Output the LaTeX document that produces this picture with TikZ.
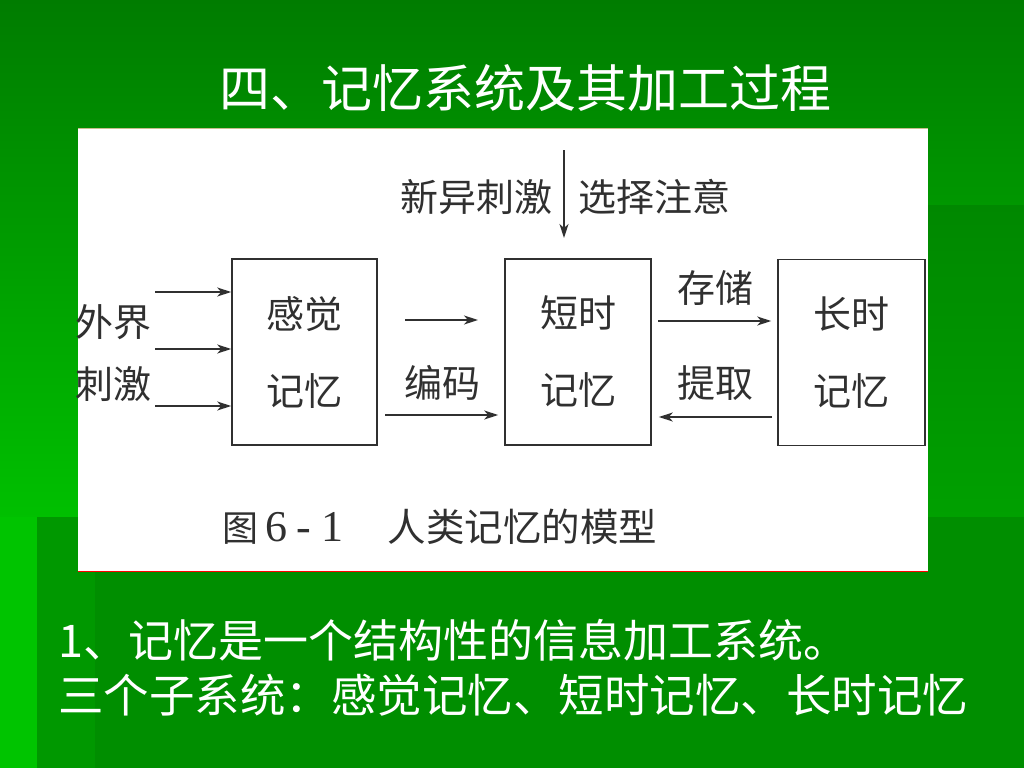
\documentclass[tikz,border=0pt]{standalone}
\usepackage{fontspec}
\setmainfont{Liberation Serif}
\newfontfamily\cjk{Noto Sans CJK SC}
\usetikzlibrary{arrows.meta}
\definecolor{gtop}{RGB}{0,124,0}
\definecolor{gbot}{RGB}{0,192,0}
\definecolor{gright}{RGB}{0,136,0}
\definecolor{grightb}{RGB}{0,160,0}
\definecolor{gleft}{RGB}{0,196,0}
\definecolor{gleftb}{RGB}{0,152,0}
\definecolor{gbase}{RGB}{0,142,0}
\definecolor{ink}{RGB}{48,48,48}
\tikzset{
  memo/.style={draw=ink, line width=1.6pt, minimum width=145pt, minimum height=186pt, inner sep=0pt,
     align=center, text=ink, font=\cjk\fontsize{38}{77}\selectfont},
  lbl/.style={text=ink, inner sep=0pt, font=\cjk\fontsize{38}{62}\selectfont, align=center},
  flow/.style={draw=ink, line width=1.5pt, -{Stealth[length=14pt,width=9pt,inset=4pt]}},
  wtext/.style={text=white, inner sep=0pt}
}
\begin{document}
\begin{tikzpicture}[x=1pt,y=-1pt]
\useasboundingbox (0,0) rectangle (1024,768);
% background
\shade[top color=gtop, bottom color=gbot] (0,0) rectangle (1024,518);
\fill[gleft] (0,517) rectangle (1024,768);
\shade[top color=gright, bottom color=grightb] (928,205) rectangle (1024,518);
\fill[gleftb] (37,517) rectangle (95,768);
\fill[gbase] (95,517) rectangle (1024,768);
% title
\node[wtext, font=\cjk\fontsize{51}{51}\selectfont] (title) at (525,88) {四、记忆系统及其加工过程};
% panel
\fill[white] (78,128) rectangle (928,572);
\draw[color={rgb,255:red,200;green,190;blue,140}, line width=1pt] (78,128.5) -- (928,128.5);
\draw[red, line width=1.2pt] (78,571.5) -- (928,571.5);
% boxes
\node[memo] (sens) at (304.5,352) {感觉\\记忆};
\node[memo, minimum width=146pt] (stm) at (578,352) {短时\\记忆};
\node[memo, minimum width=147pt] (ltm) at (851.5,352.5) {长时\\记忆};
% labels
\node[lbl] (ext) at (113,353) {外界\\刺激};
\node[lbl, anchor=east] (novel) at (553,197) {新异刺激};
\node[lbl, anchor=west] (attn) at (578,197) {选择注意};
\node[lbl] (enc) at (442,383) {编码};
\node[lbl] (store) at (715,288) {存储};
\node[lbl] (retr) at (715,383) {提取};
% input arrows
\coordinate (in1) at (155,292);
\coordinate (in2) at (155,349);
\coordinate (in3) at (155,406);
\draw[flow] (in1) -- (in1 -| sens.west);
\draw[flow] (in2) -- (in2 -| sens.west);
\draw[flow] (in3) -- (in3 -| sens.west);
% encoding arrows
\coordinate (e1) at (405,320);
\coordinate (e2) at (478,320);
\draw[flow] (e1) -- (e2);
\coordinate (e3) at (385,415);
\draw[flow, shorten >=6pt] (e3) -- (e3 -| stm.west);
% attention arrow
\coordinate (t1) at (564,150);
\coordinate (t2) at (564,238);
\draw[flow] (t1) -- (t2);
% store / retrieve
\coordinate (s1) at (658,321);
\draw[flow, shorten >=6pt] (s1) -- (s1 -| ltm.west);
\coordinate (r1) at (772,417);
\draw[flow, shorten >=7pt] (r1) -- (r1 -| stm.east);
% caption
\node[text=ink, inner sep=0pt, anchor=west, font=\fontsize{44}{44}\selectfont] (cap) at (222,527)
  {{\cjk\fontsize{36}{36}\selectfont 图}\hspace{7pt}6\hspace{9pt}-\hspace{11pt}1\hspace{44pt}{\cjk\fontsize{38.5}{38.5}\selectfont 人类记忆的模型}};
% bottom text
\node[wtext, anchor=west, font=\cjk\fontsize{45}{45}\selectfont] (l1) at (58,640) {1、记忆是一个结构性的信息加工系统。};
\node[wtext, anchor=west, font=\cjk\fontsize{45.5}{45.5}\selectfont] (l2) at (58,695) {三个子系统：感觉记忆、短时记忆、长时记忆};
\end{tikzpicture}
\end{document}
